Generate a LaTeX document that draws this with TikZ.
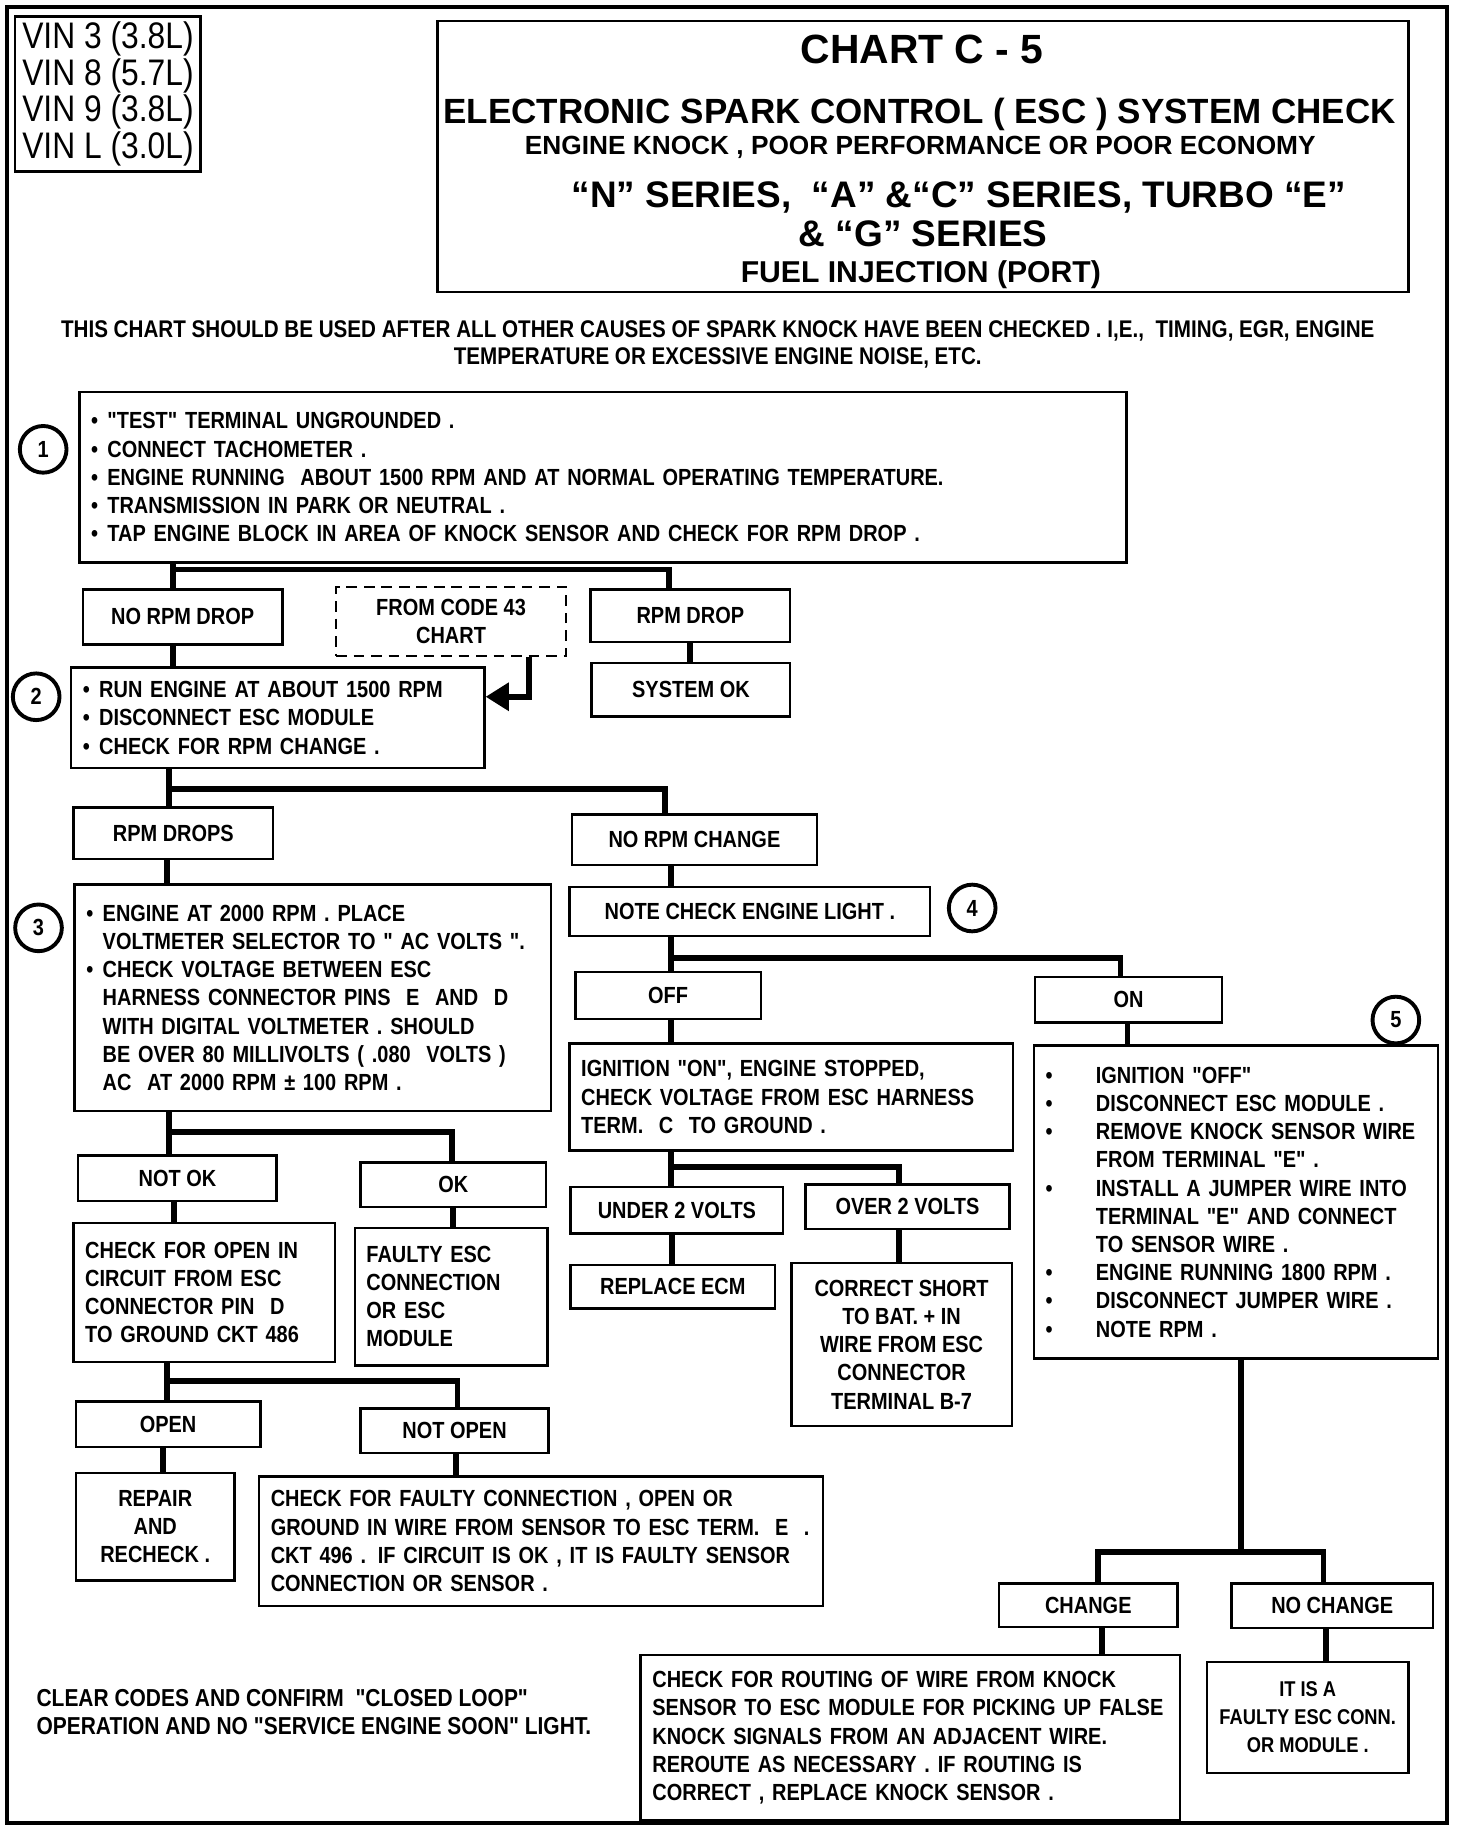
\documentclass[tikz,border=0pt]{standalone}
\usepackage{fontspec}
\setmainfont{Liberation Sans}[FakeStretch=0.855,Ligatures=TeXOff]
\newfontfamily\titlefont{Liberation Sans}
\newfontfamily\vinfont{Liberation Sans}[FakeStretch=0.86]
\usetikzlibrary{arrows.meta}
\newcommand\dotitem[1][8.4pt]{\makebox[#1][l]{\textbullet}}
\newcommand\nodot[1][8.4pt]{\hspace*{#1}}

\begin{document}
\begin{tikzpicture}[x=0.6pt,y=-0.6pt,
  box/.style={draw,line width=1.3pt,inner xsep=6pt,inner ysep=0pt,font=\fontsize{12}{14.5}\selectfont\bfseries},
  sz/.style 2 args={minimum width=#1*0.6pt,minimum height=#2*0.6pt},
  lbox/.style 2 args={box,sz={#1}{#2},text width=#1*0.6pt-12pt,align=left},
  cbox/.style 2 args={box,sz={#1}{#2},align=center},
  tline/.style={anchor=base,inner sep=0pt},
  num/.style={draw,circle,line width=2pt,minimum size=24pt,inner sep=0pt,font=\fontsize{12}{12}\selectfont\bfseries},
  wire/.style={line width=3pt}]
  \useasboundingbox (0,0) rectangle (1261,1568);
  \draw[line width=2pt] (6,6) rectangle (1240,1562);

  % heading
  \node[box,sz={159}{133},inner xsep=3pt,align=left,font=\vinfont\fontsize{19}{18.8}\selectfont] (vin) at (92.5,80.5)
    {VIN 3 (3.8L)\\VIN 8 (5.7L)\\VIN 9 (3.8L)\\VIN L (3.0L)};
  \node[draw,line width=1.3pt,sz={832}{232}] (title) at (791,134) {};
  \node[tline,font=\titlefont\bfseries\fontsize{21}{21}\selectfont] (t1) at (790,54.3) {CHART C - 5};
  \node[tline,font=\titlefont\bfseries\fontsize{18}{18}\selectfont] (t2) at (788,106.2) {ELECTRONIC SPARK CONTROL ( ESC ) SYSTEM CHECK};
  \node[tline,font=\titlefont\bfseries\fontsize{13.5}{13.5}\selectfont] (t3) at (788.5,132.8) {ENGINE KNOCK , POOR PERFORMANCE OR POOR ECONOMY};
  \node[tline,font=\titlefont\bfseries\fontsize{19}{19}\selectfont] (t4) at (821.5,177.7) {“N” SERIES,\ \ “A” \&“C” SERIES, TURBO “E”};
  \node[tline,font=\titlefont\bfseries\fontsize{19}{19}\selectfont] (t5) at (791,211.3) {\& “G” SERIES};
  \node[tline,font=\titlefont\bfseries\fontsize{15.5}{15.5}\selectfont] (t6) at (789,242) {FUEL INJECTION (PORT)};
  \node[align=center,inner sep=0pt,font=\fontsize{12.4}{13.8}\selectfont\bfseries] (note) at (615,295)
    {THIS CHART SHOULD BE USED AFTER ALL OTHER CAUSES OF SPARK KNOCK HAVE BEEN CHECKED . I,E.,\ \ TIMING, EGR, ENGINE\\
     TEMPERATURE OR EXCESSIVE ENGINE NOISE, ETC.};

  % step 1
  \node[num] (n1) at (37,385) {1};
  \node[lbox={897}{146}] (one) at (516.5,409)
    {\dotitem"TEST" TERMINAL UNGROUNDED .\\
     \dotitem CONNECT TACHOMETER .\\
     \dotitem ENGINE RUNNING\ \ ABOUT 1500 RPM AND AT NORMAL OPERATING TEMPERATURE.\\
     \dotitem TRANSMISSION IN PARK OR NEUTRAL .\\
     \dotitem TAP ENGINE BLOCK IN AREA OF KNOCK SENSOR AND CHECK FOR RPM DROP .};
  \node[cbox={171}{47}] (nrd) at (156.5,528.5) {NO RPM DROP};
  \node[cbox={197}{59},dash pattern=on 5.5pt off 3.5pt] (code43) at (386.5,532.5) {FROM CODE 43\\CHART};
  \node[cbox={171}{45}] (rd) at (591.5,527.5) {RPM DROP};
  \node[cbox={170}{46}] (sok) at (592,591) {SYSTEM OK};

  % step 2
  \node[num] (n2) at (31,597) {2};
  \node[lbox={354}{86}] (two) at (238,615)
    {\dotitem RUN ENGINE AT ABOUT 1500 RPM\\
     \dotitem DISCONNECT ESC MODULE\\
     \dotitem CHECK FOR RPM CHANGE .};
  \node[cbox={171}{44}] (drops) at (148.5,714) {RPM DROPS};
  \node[cbox={210}{43}] (nochg) at (595,719.5) {NO RPM CHANGE};

  % step 3
  \node[num] (n3) at (33,795) {3};
  \node[lbox={408}{194}] (three) at (268,855)
    {\dotitem ENGINE AT 2000 RPM . PLACE\\
     \nodot VOLTMETER SELECTOR TO " AC VOLTS ".\\
     \dotitem CHECK VOLTAGE BETWEEN ESC\\
     \nodot HARNESS CONNECTOR PINS\ \ E\ \ AND\ \ D\\
     \nodot WITH DIGITAL VOLTMETER . SHOULD\\
     \nodot BE OVER 80 MILLIVOLTS ( .080\ \ VOLTS )\\
     \nodot AC\ \ AT 2000 RPM ± 100 RPM .};
  \node[cbox={170}{39}] (notok) at (152,1009.5) {NOT OK};
  \node[cbox={159}{38}] (ok) at (388.5,1015) {OK};
  \node[lbox={224}{119}] (chkopen) at (175,1107.5)
    {CHECK FOR OPEN IN\\CIRCUIT FROM ESC\\CONNECTOR PIN\ \ D\\TO GROUND CKT 486};
  \node[lbox={165}{118}] (faulty) at (386.5,1111)
    {FAULTY ESC\\CONNECTION\\OR ESC\\MODULE};
  \node[cbox={158}{39}] (opn) at (144,1220.5) {OPEN};
  \node[cbox={161}{38}] (notopen) at (389.5,1226) {NOT OPEN};
  \node[cbox={136}{92}] (repair) at (133,1308) {REPAIR\\AND\\RECHECK .};
  \node[lbox={483}{111}] (faultycon) at (463.5,1320.5)
    {CHECK FOR FAULTY CONNECTION , OPEN OR\\
     GROUND IN WIRE FROM SENSOR TO ESC TERM.\ \ E\ \ .\\
     CKT 496 . IF CIRCUIT IS OK , IT IS FAULTY SENSOR\\
     CONNECTION OR SENSOR .};
  \node[anchor=west,align=left,inner sep=0pt,font=\fontsize{12.6}{14.4}\selectfont\bfseries] (clear) at (31,1467)
    {CLEAR CODES AND CONFIRM\ \ "CLOSED LOOP"\\OPERATION AND NO "SERVICE ENGINE SOON" LIGHT.};

  % step 4
  \node[cbox={309}{42}] (light) at (642.5,781) {NOTE CHECK ENGINE LIGHT .};
  \node[num] (n4) at (833,778) {4};
  \node[cbox={159}{40}] (off) at (572.5,853) {OFF};
  \node[cbox={160}{39}] (on) at (967,856.5) {ON};
  \node[lbox={380}{92}] (ign) at (678,940)
    {IGNITION "ON", ENGINE STOPPED,\\
     CHECK VOLTAGE FROM ESC HARNESS\\
     TERM.\ \ C\ \ TO GROUND .};
  \node[cbox={182}{40}] (under) at (580,1037) {UNDER 2 VOLTS};
  \node[cbox={175}{38}] (over) at (777.5,1034) {OVER 2 VOLTS};
  \node[cbox={175}{37}] (ecm) at (576.5,1102.5) {REPLACE ECM};
  \node[cbox={189}{140}] (short) at (772.5,1152)
    {CORRECT SHORT\\TO BAT. + IN\\WIRE FROM ESC\\CONNECTOR\\TERMINAL B-7};

  % step 5
  \node[num] (n5) at (1196,874) {5};
  \node[lbox={346}{268}] (five) at (1059,1030)
    {\dotitem[25.8pt]IGNITION "OFF"\\
     \dotitem[25.8pt]DISCONNECT ESC MODULE .\\
     \dotitem[25.8pt]REMOVE KNOCK SENSOR WIRE\\
     \nodot[25.8pt]FROM TERMINAL "E" .\\
     \dotitem[25.8pt]INSTALL A JUMPER WIRE INTO\\
     \nodot[25.8pt]TERMINAL "E" AND CONNECT\\
     \nodot[25.8pt]TO SENSOR WIRE .\\
     \dotitem[25.8pt]ENGINE RUNNING 1800 RPM .\\
     \dotitem[25.8pt]DISCONNECT JUMPER WIRE .\\
     \dotitem[25.8pt]NOTE RPM .};
  \node[cbox={153}{37}] (chg) at (932.5,1375.5) {CHANGE};
  \node[cbox={173}{38}] (nochange) at (1141.5,1376) {NO CHANGE};
  \node[lbox={462}{142}] (routing) at (780,1489)
    {CHECK FOR ROUTING OF WIRE FROM KNOCK\\
     SENSOR TO ESC MODULE FOR PICKING UP FALSE\\
     KNOCK SIGNALS FROM AN ADJACENT WIRE.\\
     REROUTE AS NECESSARY . IF ROUTING IS\\
     CORRECT , REPLACE KNOCK SENSOR .};
  \node[cbox={173}{95},inner xsep=2pt,font=\fontsize{11}{14.5}\selectfont\bfseries] (conn) at (1120.5,1471.5) {IT IS A\\FAULTY ESC CONN.\\OR MODULE .};

  % connectors
  \coordinate (f1) at (148,488);
  \draw[wire] (one.south -| f1) -- (nrd.north -| f1);
  \draw[wire] (f1) -| (rd.north -| 573,0);
  \draw[wire] (rd.south) -- (rd.south |- sok.north);
  \draw[wire] (nrd.south -| 148,0) -- (two.north -| 148,0);
  \draw[wire,-{Triangle[length=12pt,width=14pt]}] (code43.south -| 453,0) |- (two.east |- 0,597);
  \coordinate (f2) at (145,676);
  \draw[wire] (two.south -| f2) -- (drops.north -| f2);
  \draw[wire] (f2) -| (nochg.north -| 570,0);
  \draw[wire] (drops.south -| 143,0) -- (three.north -| 143,0);
  \draw[wire] (nochg.south -| 575,0) -- (light.north -| 575,0);
  \coordinate (f3) at (575,821);
  \draw[wire] (light.south -| f3) -- (off.north -| f3);
  \draw[wire] (f3) -| (on.north -| 960,0);
  \draw[wire] (off.south -| 575,0) -- (ign.north -| 575,0);
  \draw[wire] (on.south -| 966,0) -- (five.north -| 966,0);
  \coordinate (f4) at (145,970);
  \draw[wire] (three.south -| f4) -- (notok.north -| f4);
  \draw[wire] (f4) -| (ok.north -| 387,0);
  \draw[wire] (notok.south -| 149,0) -- (chkopen.north -| 149,0);
  \draw[wire] (ok.south -| 388,0) -- (faulty.north -| 388,0);
  \coordinate (f6) at (575,1000);
  \draw[wire] (ign.south -| f6) -- (under.north -| f6);
  \draw[wire] (f6) -| (over.north -| 770,0);
  \draw[wire] (under.south -| 576,0) -- (ecm.north -| 576,0);
  \draw[wire] (over.south -| 770,0) -- (short.north -| 770,0);
  \coordinate (f7) at (143,1183);
  \draw[wire] (chkopen.south -| f7) -- (opn.north -| f7);
  \draw[wire] (f7) -| (notopen.north -| 392,0);
  \draw[wire] (opn.south -| 140,0) -- (repair.north -| 140,0);
  \draw[wire] (notopen.south -| 391,0) -- (faultycon.north -| 391,0);
  \coordinate (f5) at (1063,1330);
  \draw[wire] (five.south -| f5) -- (f5);
  \draw[wire] (chg.north -| 941,0) |- (f5) -| (nochange.north -| 1134,0);
  \draw[wire] (chg.south -| 944,0) -- (routing.north -| 944,0);
  \draw[wire] (nochange.south -| 1136,0) -- (conn.north -| 1136,0);
\end{tikzpicture}
\end{document}
